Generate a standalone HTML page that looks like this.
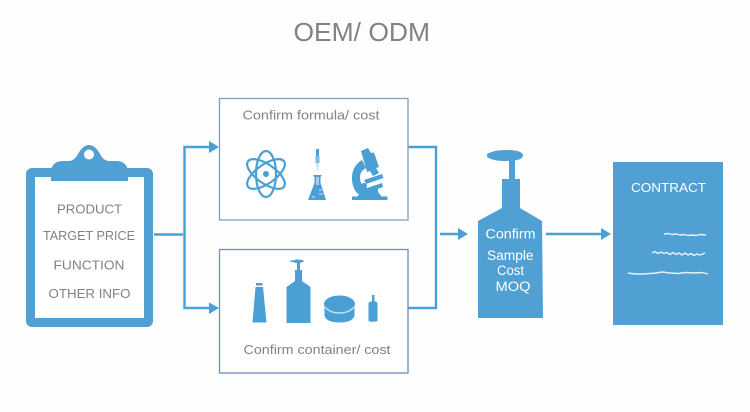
<!DOCTYPE html>
<html>
<head>
<meta charset="utf-8">
<style>
html,body{margin:0;padding:0;background:#fff;width:750px;height:412px;overflow:hidden}
svg{display:block}
text{font-family:"Liberation Sans",sans-serif}
</style>
</head>
<body>
<svg width="750" height="412" viewBox="0 0 750 412" xmlns="http://www.w3.org/2000/svg">
<rect width="750" height="412" fill="#fefefe"/>
<text x="293.500" y="41" font-size="26" fill="#808285" textLength="136.500" lengthAdjust="spacingAndGlyphs">OEM/ ODM</text>

<!-- clipboard -->
<rect x="26" y="168" width="127" height="159" rx="6" fill="#50a0d3"/>
<rect x="35" y="177" width="109" height="141" fill="#fff"/>
<path d="M51 181V170Q53 161 63 161H70Q75 160 78 154Q83 145 89 145Q95 145 100 154Q103 160 108 161H116Q126 161 128 170V181Z" fill="#50a0d3"/>
<circle cx="89" cy="154.500" r="5" fill="#fff"/>
<g font-size="13" fill="#808285">
<text x="57" y="213.500" textLength="65" lengthAdjust="spacingAndGlyphs">PRODUCT</text>
<text x="43" y="240" textLength="92" lengthAdjust="spacingAndGlyphs">TARGET PRICE</text>
<text x="53.500" y="269.500" textLength="71" lengthAdjust="spacingAndGlyphs">FUNCTION</text>
<text x="48.500" y="298" textLength="82" lengthAdjust="spacingAndGlyphs">OTHER INFO</text>
</g>

<!-- connectors -->
<g fill="none" stroke="#4a9fd4" stroke-width="2.400">
<path d="M154 234.500H183"/>
<path d="M210 147H184.500V308H210"/>
<path d="M408 147H436V308H408"/>
<path d="M440 234H460"/>
<path d="M546 234H603"/>
</g>
<g fill="#4a9fd4">
<path d="M209 141V153L219 147Z"/>
<path d="M209 302.500V314L219 308Z"/>
<path d="M458 228V240L468 234Z"/>
<path d="M601 228V240L611 234Z"/>
</g>

<!-- boxes -->
<rect x="219.500" y="98.500" width="188.500" height="121.500" fill="#fff" stroke="#7f9fbe" stroke-width="1.300"/>
<rect x="219.500" y="249.500" width="188.500" height="123.500" fill="#fff" stroke="#6f90b5" stroke-width="1.300"/>
<text x="242.500" y="119.500" font-size="13" fill="#808285" textLength="137" lengthAdjust="spacingAndGlyphs">Confirm formula/ cost</text>
<text x="243.500" y="354" font-size="13" fill="#808285" textLength="147" lengthAdjust="spacingAndGlyphs">Confirm container/ cost</text>

<!-- atom -->
<g fill="none" stroke="#4a9fd4" stroke-width="2.200">
<ellipse cx="266" cy="174" rx="22" ry="9.500" transform="rotate(35 266 174)"/>
<ellipse cx="266" cy="174" rx="22" ry="9.500" transform="rotate(-35 266 174)"/>
<ellipse cx="266" cy="174" rx="10" ry="23"/>
</g>
<circle cx="266" cy="174" r="3" fill="#4a9fd4"/>

<!-- dropper and flask -->
<rect x="316" y="149" width="3" height="8" fill="#4a9fd4"/>
<rect x="315.500" y="156" width="4" height="7" fill="#7fb9df"/>
<path d="M316 163H319L318 170H317Z" fill="#c8e0f1"/>
<path d="M316.800 170H318.200V171H316.800Z" fill="#c8e0f1"/>
<path d="M313.500 175H321.500V176.500H320.500V183L326 200H308L314.500 183V176.500H313.500Z" fill="#4a9fd4"/>
<path d="M316 177H319V185H316Z" fill="#a9d0ea"/>
<path d="M319 190H322M319 194H323M312 197H315" stroke="#fff" stroke-width="0.700"/>

<!-- microscope -->
<g fill="#4a9fd4">
<path d="M352 196.500H387.500V200H352Z"/>
<path d="M357 197L361 192H378L382 197Z"/>
<path d="M361 151L368 148L371 153L374 152.500L379 167L376 168L379 173L373 176L370 171L367 172Z"/>
<path d="M362 160L366 168Q360 171 360 177Q360 185 366 188L378 188V194H358Q352 188 352 178Q352 166 362 160Z"/>
<path d="M364 180L382 174L383.500 178L366 184Z"/>
<path d="M367 188L382 183L383 187L369 192Z"/>
<circle cx="364" cy="186" r="3"/>
</g>

<!-- tube -->
<g fill="#4a9fd4">
<rect x="256" y="283" width="6.500" height="2.500"/>
<path d="M255.500 287H263L266.500 322.500H252.500Z"/>
</g>
<!-- pump bottle -->
<g fill="#4a9fd4">
<path d="M290 260.500Q294 260.500 296 259.500Q303 259.500 304 261Q303 263 296 263Q293 262 290 261.500Z"/>
<rect x="297" y="262" width="3" height="8"/>
<path d="M295 270H302V281L310.500 287V323H286.500V287L295 281Z"/>
<!-- jar -->
<ellipse cx="339.500" cy="304" rx="15.500" ry="8.500"/>
<path d="M324.500 304V316Q327 322.500 339.500 322.500Q352 322.500 354.500 316V304Z"/>
<!-- small bottle -->
<rect x="372" y="295" width="2.500" height="8"/>
<path d="M368.500 303L370.500 301.500H376L377.500 303V321Q373 322.500 368.500 321Z"/>
</g>
<path d="M325 307Q330 313 339.500 313Q349 313 354 307" fill="none" stroke="#bfe0f3" stroke-width="1.400"/>

<!-- big bottle -->
<g fill="#50a0d3">
<path d="M487 154Q494 150 505 150Q523 150 523 155.500Q523 161 505 161Q493 161 487 157Z"/>
<rect x="509" y="160" width="6" height="20"/>
<path d="M502 179H520V208L542 221L543 318H478V221L502 208Z"/>
</g>
<g font-size="13.500" fill="#fff">
<text x="485.500" y="238.500" textLength="50" lengthAdjust="spacingAndGlyphs">Confirm</text>
<text x="487" y="260" textLength="46.500" lengthAdjust="spacingAndGlyphs">Sample</text>
<text x="497" y="275" textLength="27" lengthAdjust="spacingAndGlyphs">Cost</text>
<text x="495.500" y="291" textLength="35" lengthAdjust="spacingAndGlyphs">MOQ</text>
</g>

<!-- contract -->
<rect x="613" y="162" width="110" height="163" fill="#50a0d3"/>
<text x="631" y="192" font-size="13" fill="#fff" textLength="75" lengthAdjust="spacingAndGlyphs">CONTRACT</text>
<g fill="none" stroke="#e6f3fb" stroke-width="1.400" stroke-linejoin="round">
<polyline points="664,234 668,233.500 672,234.500 676,234 680,235 684,234.500 688,235.500 692,235 696,235.500 700,234.500 706,235"/>
<polyline points="652,253 655,251.500 658,253.500 661,252 664,253.500 667,252.500 670,254.500 673,252.500 676,254.500 679,253 682,255 685,253 688,255 691,253.500 694,255.500 697,254 700,255 703,254 705,252.500"/>
<polyline points="628,273 635,274 642,274 650,273.500 656,273 662,272 670,273 678,273.500 686,272.500 694,273 702,272.500 708,274"/>
</g>
</svg>
</body>
</html>
